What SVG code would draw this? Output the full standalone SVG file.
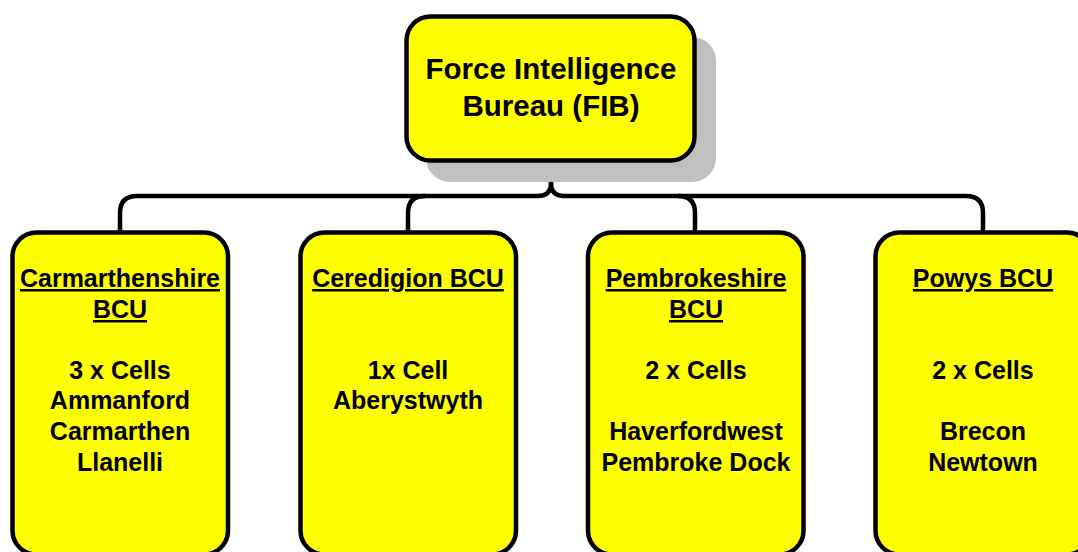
<svg xmlns="http://www.w3.org/2000/svg" width="1078" height="552" viewBox="0 0 1078 552">
<style>
.box{fill:#ffff00;stroke:#000;stroke-width:4.5}
.shadow{fill:#c0c0c0}
.t{font-family:"Liberation Sans",Arial,sans-serif;font-weight:bold;fill:#000;text-anchor:middle}
.big{font-size:29.5px}
.sm{font-size:25px}
.u{text-decoration:underline}
.conn{fill:none;stroke:#000;stroke-width:4.5}
</style>
<rect width="1078" height="552" fill="#fff"/>
<g id="connectors">
<path class="conn" d="M551 162 V183 Q551 196 538 196 H137 Q120 196 120 213 V232"/>
<path class="conn" d="M551 183 Q551 196 564 196 H966 Q983 196 983 213 V232"/>
<path class="conn" d="M425 196 Q408 196 408 213 V232"/>
<path class="conn" d="M678 196 Q695 196 695 213 V232"/>
</g>
<g id="fib">
<rect class="shadow" x="426" y="37" width="290" height="145" rx="24"/>
<rect class="box" x="406.5" y="16.5" width="288" height="144" rx="24"/>
<text class="t big" x="551" y="79">Force Intelligence</text>
<text class="t big" x="551" y="116">Bureau (FIB)</text>
</g>
<g id="carmarthenshire">
<rect class="box" x="12.5" y="232.5" width="215.5" height="322" rx="24"/>
<text class="t sm u" x="120" y="287">Carmarthenshire</text>
<text class="t sm u" x="120" y="318">BCU</text>
<text class="t sm" x="120" y="379">3 x Cells</text>
<text class="t sm" x="120" y="409">Ammanford</text>
<text class="t sm" x="120" y="440">Carmarthen</text>
<text class="t sm" x="120" y="471">Llanelli</text>
</g>
<g id="ceredigion">
<rect class="box" x="300.5" y="232.5" width="215.5" height="322" rx="24"/>
<text class="t sm u" x="408" y="287">Ceredigion BCU</text>
<text class="t sm" x="408" y="379">1x Cell</text>
<text class="t sm" x="408" y="409">Aberystwyth</text>
</g>
<g id="pembrokeshire">
<rect class="box" x="588" y="232.5" width="215.5" height="322" rx="24"/>
<text class="t sm u" x="696" y="287">Pembrokeshire</text>
<text class="t sm u" x="696" y="318">BCU</text>
<text class="t sm" x="696" y="379">2 x Cells</text>
<text class="t sm" x="696" y="440">Haverfordwest</text>
<text class="t sm" x="696" y="471">Pembroke Dock</text>
</g>
<g id="powys">
<rect class="box" x="875.5" y="232.5" width="215.5" height="322" rx="24"/>
<text class="t sm u" x="983" y="287">Powys BCU</text>
<text class="t sm" x="983" y="379">2 x Cells</text>
<text class="t sm" x="983" y="440">Brecon</text>
<text class="t sm" x="983" y="471">Newtown</text>
</g>
</svg>
